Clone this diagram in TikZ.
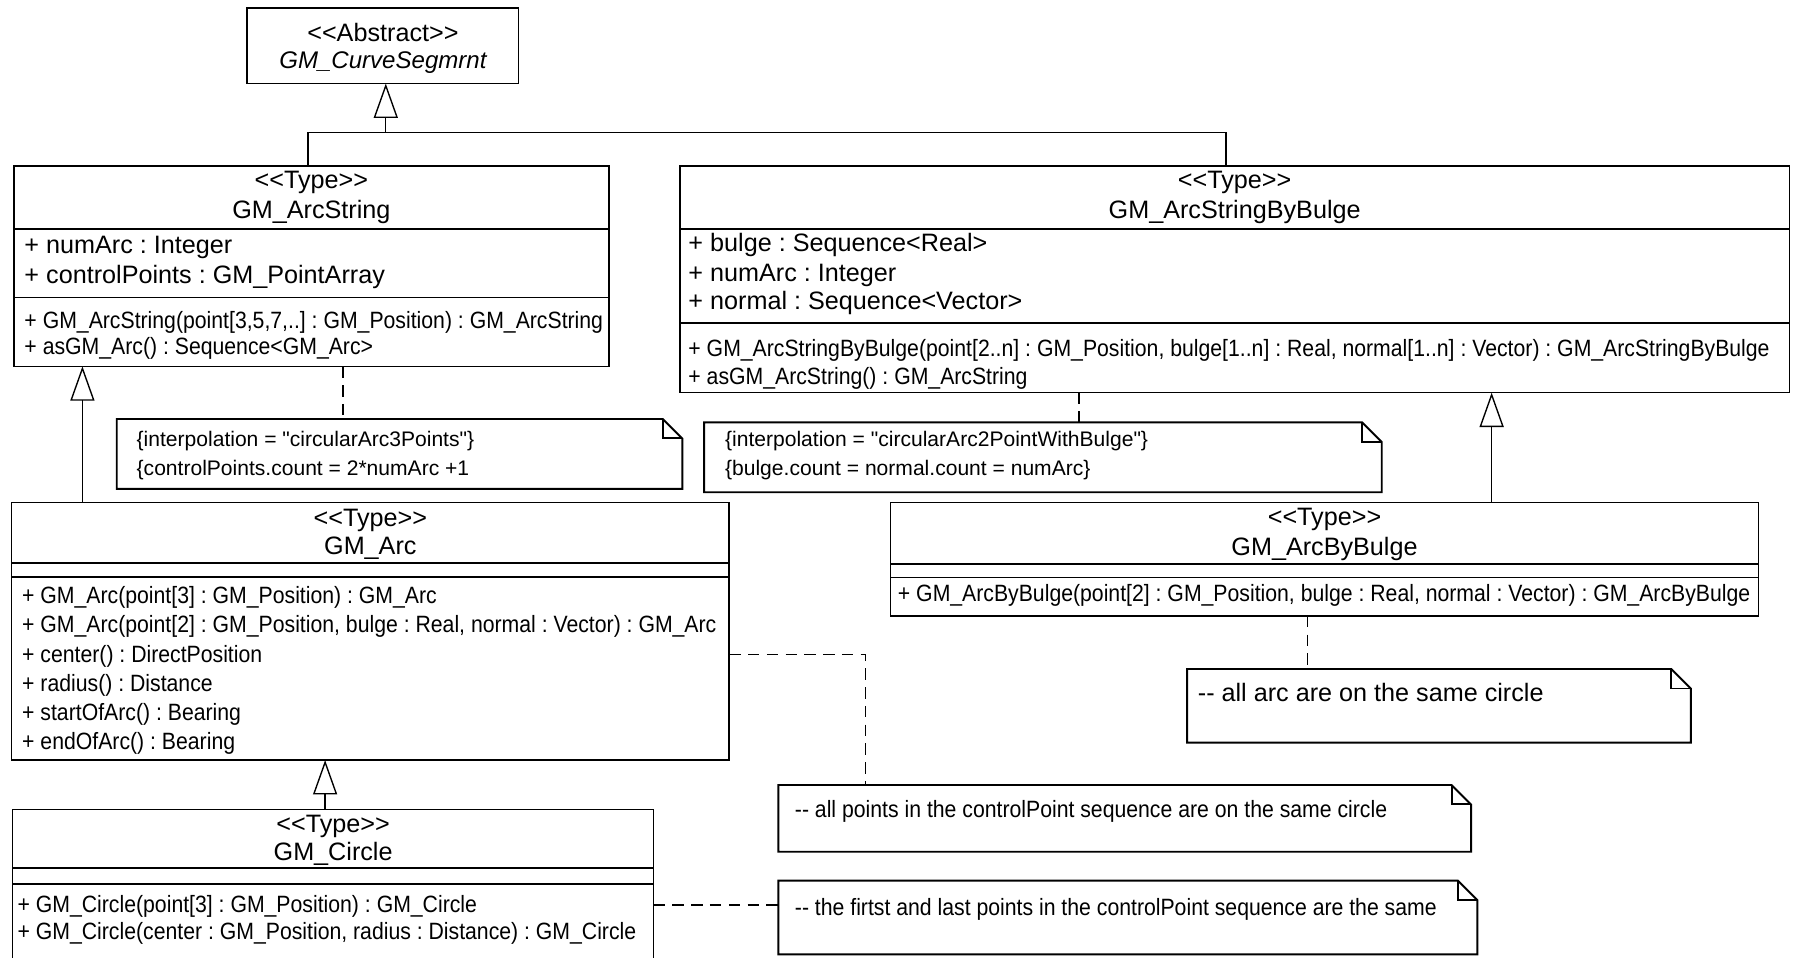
\documentclass[tikz,border=0pt]{standalone}
\usepackage{fontspec}
\setmainfont{Liberation Sans}
\newfontfamily\regfont{Liberation Sans}
\newfontfamily\opfont{Liberation Sans}[FakeStretch=0.9]
\usetikzlibrary{arrows.meta}
\newdimen\spx \spx=0.5pt
\frenchspacing

% folded-corner outline around a note node
\newcommand\drawnote[1]{%
  \draw[noteline] (#1.north west) -- ([xshift=-8.5pt]#1.north east)
    -- ([yshift=-8.5pt]#1.north east) -- (#1.south east) -- (#1.south west) -- cycle;
  \draw[noteline] ([xshift=-8.5pt]#1.north east) |- ([yshift=-8.5pt]#1.north east);}

\tikzset{
  cls/.style={draw, line width=0.7pt, inner sep=0pt, outer sep=0pt, anchor=north west},
  notebox/.style={inner sep=0pt, outer sep=0pt, anchor=north west},
  noteline/.style={line width=0.85pt, line join=miter},
  sep/.style={line width=0.7pt},
  ttl/.style={inner sep=0pt, anchor=base, font=\regfont\fontsize{11pt}{13pt}\selectfont},
  attr/.style={inner sep=0pt, anchor=base west, font=\regfont\fontsize{11pt}{13pt}\selectfont},
  oper/.style={inner sep=0pt, anchor=base west, font=\opfont\fontsize{10.3pt}{12pt}\selectfont},
  ntxt/.style={inner sep=0pt, anchor=base west, font=\regfont\fontsize{9.2pt}{11pt}\selectfont},
  gen/.style={line width=0.6pt, -{Triangle[open, length=15pt, width=10.5pt]}},
  link/.style={line width=0.6pt},
  anchorline/.style={line width=0.6pt, dash pattern=on 5pt off 3.2pt},
}

\begin{document}
\begin{tikzpicture}[x=0.5pt, y=-0.5pt]
\useasboundingbox (0,0) rectangle (1568,836);
\clip (0,0) rectangle (1568,836);

% ---------- abstract root ----------
\node[cls, minimum width=237\spx, minimum height=66\spx] (abs) at (216,7) {};
\node[ttl] (absS) at (334.5,36) {<<Abstract>>};
\node[ttl, font=\regfont\itshape\fontsize{10.5pt}{13pt}\selectfont] (absN) at (334.5,60) {GM\_CurveSegmrnt};

% ---------- GM_ArcString ----------
\node[cls, minimum width=520\spx, minimum height=175\spx] (as) at (12,145) {};
\draw[sep] (12,200) -- (532,200);
\draw[sep] (12,260) -- (532,260);
\node[ttl] (asS) at (272,164.5) {<<Type>>};
\node[ttl] (asN) at (272,190.5) {GM\_ArcString};
\node[attr] (asA1) at (21,221) {+ numArc : Integer};
\node[attr] (asA2) at (21,247.5) {+ controlPoints : GM\_PointArray};
\node[oper] (asO1) at (21,287) {+ GM\_ArcString(point[3,5,7,..] : GM\_Position) : GM\_ArcString};
\node[oper] (asO2) at (21,309.5) {+ asGM\_Arc() : Sequence<GM\_Arc>};

% ---------- GM_ArcStringByBulge ----------
\node[cls, minimum width=969\spx, minimum height=198\spx] (asb) at (594,145) {};
\draw[sep] (594,200) -- (1563,200);
\draw[sep] (594,282) -- (1563,282);
\node[ttl] (asbS) at (1078.5,164.5) {<<Type>>};
\node[ttl] (asbN) at (1078.5,190.5) {GM\_ArcStringByBulge};
\node[attr] (asbA1) at (601,219.5) {+ bulge : Sequence<Real>};
\node[attr] (asbA2) at (601,245.5) {+ numArc : Integer};
\node[attr] (asbA3) at (601,270.5) {+ normal : Sequence<Vector>};
\node[oper] (asbO1) at (601,311) {+ GM\_ArcStringByBulge(point[2..n] : GM\_Position, bulge[1..n] : Real, normal[1..n] : Vector) : GM\_ArcStringByBulge};
\node[oper] (asbO2) at (601,335.5) {+ asGM\_ArcString() : GM\_ArcString};

% ---------- GM_Arc ----------
\node[cls, minimum width=627\spx, minimum height=225\spx] (arc) at (10,439) {};
\draw[sep] (10,492) -- (637,492);
\draw[sep] (10,504) -- (637,504);
\node[ttl] (arcS) at (323.5,459.5) {<<Type>>};
\node[ttl] (arcN) at (323.5,484.5) {GM\_Arc};
\node[oper] (arcO1) at (19,527) {+ GM\_Arc(point[3] : GM\_Position) : GM\_Arc};
\node[oper] (arcO2) at (19,552.5) {+ GM\_Arc(point[2] : GM\_Position, bulge : Real, normal : Vector) : GM\_Arc};
\node[oper] (arcO3) at (19,578.5) {+ center() : DirectPosition};
\node[oper] (arcO4) at (19,604) {+ radius() : Distance};
\node[oper] (arcO5) at (19,629) {+ startOfArc() : Bearing};
\node[oper] (arcO6) at (19,654.5) {+ endOfArc() : Bearing};

% ---------- GM_ArcByBulge ----------
\node[cls, minimum width=758\spx, minimum height=99\spx] (abb) at (778,439) {};
\draw[sep] (778,492.7) -- (1536,492.7);
\draw[sep] (778,504.3) -- (1536,504.3);
\node[ttl] (abbS) at (1157,459) {<<Type>>};
\node[ttl] (abbN) at (1157,485.5) {GM\_ArcByBulge};
\node[oper] (abbO1) at (784,525) {+ GM\_ArcByBulge(point[2] : GM\_Position, bulge : Real, normal : Vector) : GM\_ArcByBulge};

% ---------- GM_Circle (runs past the lower edge) ----------
\node[cls, minimum width=560\spx, minimum height=140\spx] (circ) at (11,707) {};
\draw[sep] (11,758) -- (571,758);
\draw[sep] (11,772) -- (571,772);
\node[ttl] (circS) at (291,727.5) {<<Type>>};
\node[ttl] (circN) at (291,751.5) {GM\_Circle};
\node[oper] (circO1) at (15,797) {+ GM\_Circle(point[3] : GM\_Position) : GM\_Circle};
\node[oper] (circO2) at (15,821) {+ GM\_Circle(center : GM\_Position, radius : Distance) : GM\_Circle};

% ---------- notes ----------
\node[notebox, minimum width=494\spx, minimum height=61\spx] (n1) at (102,366) {};
\drawnote{n1}
\node[ntxt] (n1a) at (119,390) {\{interpolation = "circularArc3Points"\}};
\node[ntxt] (n1b) at (119,415) {\{controlPoints.count = 2*numArc +1};

\node[notebox, minimum width=592\spx, minimum height=61\spx] (n2) at (615,369) {};
\drawnote{n2}
\node[ntxt] (n2a) at (633,390) {\{interpolation = "circularArc2PointWithBulge"\}};
\node[ntxt] (n2b) at (633,415) {\{bulge.count = normal.count = numArc\}};

\node[notebox, minimum width=440\spx, minimum height=64.3\spx] (n3) at (1037,584.4) {};
\drawnote{n3}
\node[attr] (n3a) at (1046,612.5) {-- all arc are on the same circle};

\node[notebox, minimum width=605\spx, minimum height=58.3\spx] (n4) at (680,685.7) {};
\drawnote{n4}
\node[oper] (n4a) at (694,714.5) {-- all points in the controlPoint sequence are on the same circle};

\node[notebox, minimum width=610.6\spx, minimum height=64.3\spx] (n5) at (680,769.3) {};
\drawnote{n5}
\node[oper] (n5a) at (694,799.5) {-- the firtst and last points in the controlPoint sequence are the same};

% ---------- generalisations ----------
\coordinate (busL) at (269,116);
\coordinate (busM) at (337,116);
\coordinate (busR) at (1071,116);
\draw[gen] (as.north -| busL) -- (busL) -- (busM) -- (abs.south -| busM);
\draw[link] (asb.north -| busR) -- (busR) -- (busM);

\coordinate (g1) at (72,0);
\draw[gen] (arc.north -| g1) -- (as.south -| g1);
\coordinate (g2) at (284,0);
\draw[gen] (circ.north -| g2) -- (arc.south -| g2);
\coordinate (g3) at (1303,0);
\draw[gen] (abb.north -| g3) -- (asb.south -| g3);

% ---------- note anchors ----------
\coordinate (d1) at (299.5,0);
\draw[anchorline] (as.south -| d1) -- (n1.north -| d1);
\coordinate (d2) at (942.5,0);
\draw[anchorline] (asb.south -| d2) -- (n2.north -| d2);
\coordinate (d3) at (1142.4,0);
\draw[anchorline] (abb.south -| d3) -- (n3.north -| d3);
\coordinate (d4) at (756,571.6);
\draw[anchorline] (arc.east |- d4) -- (d4) -- (n4.north -| d4);
\coordinate (d5) at (0,790.5);
\draw[anchorline] (circ.east |- d5) -- (n5.west |- d5);
\end{tikzpicture}
\end{document}
